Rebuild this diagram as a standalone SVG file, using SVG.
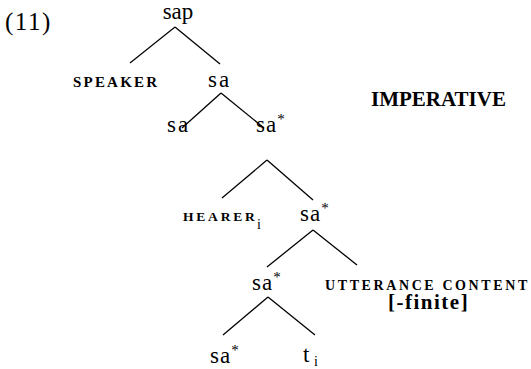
<svg xmlns="http://www.w3.org/2000/svg" width="531" height="369" viewBox="0 0 531 369">
<style>
#edges line{stroke:#000;stroke-width:1.3;fill:none}
</style>
<rect width="531" height="369" fill="#fff"/>
<g font-family="Liberation Serif, Times New Roman, serif" fill="#000">
<text x="5" y="30" font-size="25" letter-spacing="1.5">(11)</text>
<g id="edges">
<line x1="175" y1="27" x2="130" y2="63"/>
<line x1="175" y1="27" x2="220" y2="64"/>
<line x1="221" y1="93" x2="182" y2="128"/>
<line x1="221" y1="93" x2="264" y2="128"/>
<line x1="267" y1="160" x2="222" y2="198"/>
<line x1="267" y1="160" x2="313" y2="200"/>
<line x1="313" y1="230" x2="267" y2="267"/>
<line x1="313" y1="230" x2="357" y2="265"/>
<line x1="268" y1="297" x2="223" y2="335"/>
<line x1="268" y1="297" x2="315" y2="335"/>
</g>
<g id="sap"><text x="178" y="19" font-size="23" text-anchor="middle">sap</text></g>
<g id="speaker"><text x="73" y="87" font-size="15" font-weight="bold" letter-spacing="2.2">SPEAKER</text></g>
<g id="sa1"><text x="208" y="87" font-size="23" letter-spacing="2">sa</text></g>
<g id="imperative"><text x="371" y="106" font-size="21" font-weight="bold">IMPERATIVE</text></g>
<g id="sa2"><text x="167" y="132" font-size="23" letter-spacing="2">sa</text></g>
<g id="sastar1"><text x="256" y="132" font-size="23" letter-spacing="1">sa<tspan font-size="15" dy="-8">*</tspan></text></g>
<g id="hearer"><text x="183" y="221" font-size="13.5" font-weight="bold" letter-spacing="2.8">HEARER</text><text x="257" y="229" font-size="14">i</text></g>
<g id="sastar2"><text x="300" y="221" font-size="23" letter-spacing="1">sa<tspan font-size="15" dy="-8">*</tspan></text></g>
<g id="sastar3"><text x="252" y="290" font-size="23" letter-spacing="1">sa<tspan font-size="15" dy="-8">*</tspan></text></g>
<g id="utterance"><text x="325" y="290" font-size="14" font-weight="bold" letter-spacing="2.6">UTTERANCE CONTENT</text><text x="388" y="309" font-size="21" font-weight="bold" letter-spacing="1.5">[-finite]</text></g>
<g id="sastar4"><text x="210" y="363" font-size="23" letter-spacing="1">sa<tspan font-size="15" dy="-8">*</tspan></text></g>
<g id="trace"><text x="303" y="362" font-size="23">t</text><text x="314" y="366" font-size="14">i</text></g>
</g>
</svg>
